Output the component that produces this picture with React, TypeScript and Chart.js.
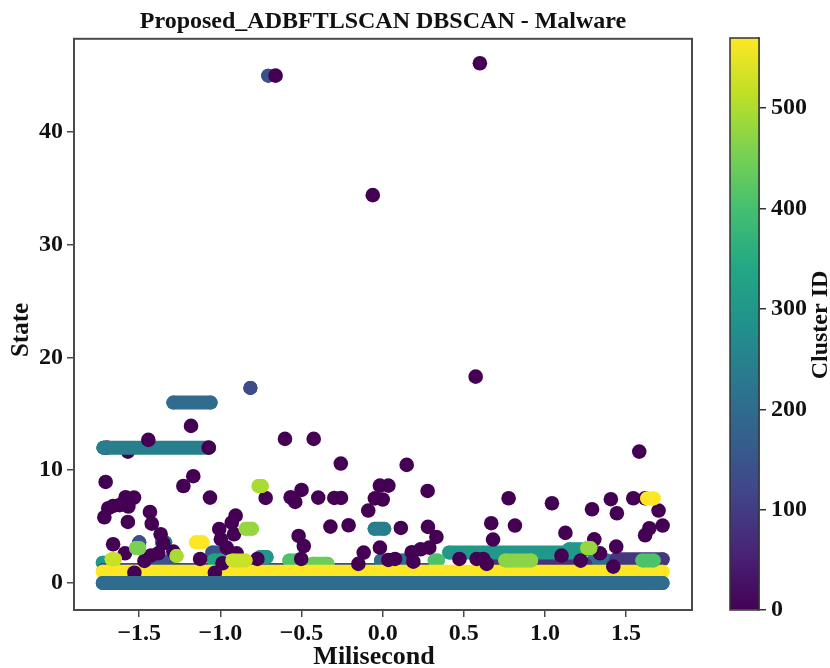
import React, { useEffect, useRef } from "react";
import { Chart, registerables } from "chart.js";

Chart.register(...registerables);

const TITLE = "Proposed_ADBFTLSCAN DBSCAN - Malware";
const X_LABEL = "Milisecond";
const Y_LABEL = "State";
const CB_LABEL = "Cluster ID";
const xTicks = [-1.5, -1, -0.5, 0, 0.5, 1, 1.5];
const yTicks = [0, 10, 20, 30, 40];
const cbTicks = [0, 100, 200, 300, 400, 500];
const CLUSTER_MAX = 570;

const viridisStops = ["#440154", "#482475", "#414487", "#355f8d", "#2a788e", "#21918c", "#22a884", "#44bf70", "#7ad151", "#bddf26", "#fde725"];

// Runs of same-cluster points, lowest layer first: [cluster, y, xStart, xEnd]
const bandsBack: number[][] = [
  [302, 1.8, -1.725, -1.69],
  [302, 12, -1.72, -1.72],
  [130, 1.15, -1.72, 0.3],
  [200, 2, -0.01, 0.13],
  [140, 3.6, -1.5, -1.5],
  [245, 3.6, -1.36, -1.34],
  [150, 2.7, -1.05, -1.0],
  [150, 1.9, -1.38, -1.32],
  [200, 2, 1.3, 1.38],
  [90, 2.1, 1.44, 1.725],
  [80, 1.6, 0.69, 1.25],
];
const dotsBehindX = [-1.57, -1.7];
const dotsBehindY = [11.65, 12];
const bandsMid: number[][] = [
  [245, 12, -1.72, -1.07],
  [200, 16, -1.29, -1.06],
  [302, 2.7, 0.41, 1.2],
  [302, 3, 1.15, 1.28],
  [245, 4.8, -0.05, 0.01],
  [300, 2.3, -0.755, -0.715],
  [330, 2, -1.04, -1.0],
  [410, 2, -0.575, -0.535],
  [440, 1.7, -0.43, -0.34],
  [410, 2, 0.32, 0.34],
  [130, 17.3, -0.815, -0.815],
  [140, 45, -0.705, -0.705],
  [570, 1, -1.725, 1.725],
];
const dotX = [-0.66, 0.599, -0.061, 0.573, -1.444, -1.181, -1.072, -0.602, -0.425, -0.258, -1.707, -1.167, -1.228, -1.064, -0.721, -0.567, -0.5, -0.539, -0.397, -0.298, -0.257, -0.017, 0.035, -0.048, 0, -0.089, -1.715, -1.691, -1.661, -1.62, -1.584, -1.532, -1.567, -1.57, -1.434, -1.423, -1.368, -1.352, -1.661, -1.588, -1.383, -1.429, -1.468, -1.29, -0.906, -0.93, -1.007, -0.916, -0.997, -0.961, -0.9, -1.125, -0.772, -0.987, -1.53, -1.034, -0.518, -0.486, -0.502, -0.322, -0.21, -0.117, -0.15, -0.017, 0.035, 1.581, 0.148, 0.277, 0.776, 1.043, 1.29, 1.406, 1.443, 1.544, 1.617, 1.7, 1.725, 1.643, 1.617, 0.112, 0.279, 0.331, 0.669, 0.815, 0.68, 1.126, 1.304, 1.439, 1.339, 1.102, 0.076, 0.179, 0.234, 0.287, 0.189, 0.473, 0.579, 0.62, 1.22, 1.421, 0.641];
const dotY = [45, 46.1, 34.4, 18.3, 12.69, 13.93, 12, 12.78, 12.78, 10.59, 8.96, 9.47, 8.6, 7.57, 7.54, 7.6, 8.25, 7.19, 7.57, 7.54, 7.54, 8.63, 8.63, 7.5, 7.4, 6.42, 5.83, 6.63, 6.83, 6.9, 7.6, 7.57, 6.78, 5.41, 6.3, 5.26, 4.32, 3.52, 3.43, 2.63, 2.63, 2.42, 1.95, 2.78, 5.97, 5.35, 4.79, 4.32, 3.88, 3.13, 2.63, 2.13, 2.13, 1.75, 0.91, 0.91, 4.17, 3.28, 2.13, 5, 5.12, 2.69, 1.69, 3.13, 2.04, 11.65, 10.47, 8.16, 7.51, 7.07, 6.54, 7.43, 6.18, 7.51, 7.51, 6.42, 5.09, 4.85, 4.23, 4.88, 4.97, 4.08, 5.3, 5.09, 3.85, 4.44, 3.87, 3.22, 2.63, 2.42, 2.13, 2.72, 2.99, 3.13, 1.89, 2.13, 2.13, 2.13, 1.98, 1.45, 1.69];
const bandsFront: number[][] = [
  [200, 0, -1.725, 1.725],
  [456, 3.1, -1.52, -1.5],
  [524, 2.1, -1.67, -1.65],
  [496, 2.4, -1.27, -1.27],
  [570, 3.6, -1.15, -1.11],
  [496, 8.6, -0.765, -0.745],
  [480, 4.8, -0.845, -0.805],
  [524, 2, -0.925, -0.845],
  [470, 2, 0.755, 0.915],
  [410, 2, 1.6, 1.67],
  [480, 3.1, 1.26, 1.28],
  [570, 7.5, 1.63, 1.67],
];

function viridis(cluster: number): string {
  const t = Math.min(1, Math.max(0, cluster / CLUSTER_MAX)) * (viridisStops.length - 1);
  const i = Math.min(viridisStops.length - 2, Math.floor(t));
  const f = t - i;
  const parse = (h: string) => [1, 3, 5].map((k) => parseInt(h.slice(k, k + 2), 16));
  const a = parse(viridisStops[i]);
  const b = parse(viridisStops[i + 1]);
  return `rgb(${a.map((v, k) => Math.round(v + (b[k] - v) * f)).join(",")})`;
}

const RADIUS = 7.3;
const FONT = "'Liberation Serif', 'Times New Roman', serif";
const INK = "#111";
const FRAME = "#4a4a4a";

const bandSet = (b: number[]) => ({
  data: [{ x: b[2], y: b[1] }, { x: b[3], y: b[1] }],
  showLine: true,
  borderColor: viridis(b[0]),
  backgroundColor: viridis(b[0]),
  borderWidth: 14,
  borderCapStyle: "round" as const,
  pointRadius: 7,
  pointBorderWidth: 0,
});
const dotSet = (xs: number[], ys: number[]) => ({
  data: xs.map((x, i) => ({ x, y: ys[i] })),
  showLine: false,
  backgroundColor: viridis(0),
  borderColor: viridis(0),
  pointRadius: RADIUS,
  pointBorderWidth: 0,
});

const frameWith = (color: string, width: number) => ({
  id: "frame",
  afterDatasetsDraw(chart: any) {
    const { ctx, chartArea: a } = chart;
    ctx.save();
    ctx.strokeStyle = color;
    ctx.lineWidth = width;
    ctx.strokeRect(a.left, a.top, a.right - a.left, a.bottom - a.top);
    ctx.restore();
  },
});

const drawLabel = (ctx: any, text: string, x: number, y: number, size: number, rotate: boolean) => {
  ctx.save();
  ctx.translate(x, y);
  if (rotate) ctx.rotate(-Math.PI / 2);
  ctx.textAlign = "center";
  ctx.textBaseline = "middle";
  ctx.fillStyle = INK;
  ctx.font = `bold ${size}px ${FONT}`;
  ctx.fillText(text, 0, 0);
  ctx.restore();
};

const axisLabelPlugin = {
  id: "axisLabels",
  afterDraw(chart: any) {
    drawLabel(chart.ctx, X_LABEL, 374, 657, 26, false);
    drawLabel(chart.ctx, Y_LABEL, 22, 330, 25, true);
  },
};
const cbTitlePlugin = {
  id: "cbTitle",
  afterDraw(chart: any) {
    drawLabel(chart.ctx, CB_LABEL, 121, 325, 24, true);
  },
};

const tickFont = { family: FONT, size: 24, weight: "bold" as const };
const titleFont = { family: FONT, size: 24, weight: "bold" as const };
const axisBorder = { display: true, color: FRAME, width: 2 };
const axisGrid = { drawOnChartArea: false, drawTicks: true, tickLength: 7, color: FRAME, lineWidth: 1.5 };

export default function App() {
  const mainRef = useRef<HTMLCanvasElement>(null);
  const barRef = useRef<HTMLCanvasElement>(null);

  useEffect(() => {
    const layered = [
      ...bandsBack.map(bandSet),
      dotSet(dotsBehindX, dotsBehindY),
      ...bandsMid.map(bandSet),
      dotSet(dotX, dotY),
      ...bandsFront.map(bandSet),
    ];
    // Chart.js paints the first dataset last, so reverse to keep back-to-front order.
    const main = new Chart(mainRef.current!, {
      type: "scatter",
      data: { datasets: layered.reverse() as any },
      options: {
        responsive: false,
        animation: false,
        layout: { padding: { left: 0, right: 138, top: 0, bottom: 0 } },
        plugins: {
          legend: { display: false },
          tooltip: { enabled: false },
          title: {
            display: true,
            text: TITLE,
            fullSize: false,
            color: INK,
            font: titleFont,
            padding: { top: 7, bottom: 3 },
          } as any,
        },
        scales: {
          x: {
            type: "linear",
            min: -1.902,
            max: 1.906,
            afterBuildTicks: (s: any) => { s.ticks = xTicks.map((value) => ({ value })); },
            afterFit: (s: any) => { s.height = 58; },
            border: axisBorder,
            grid: axisGrid,
            ticks: {
              color: INK,
              font: tickFont,
              padding: 2,
              maxRotation: 0,
              autoSkip: false,
              callback: (v: any) => (v < 0 ? "\u2212" : "") + Math.abs(v).toFixed(1),
            },
          },
          y: {
            type: "linear",
            min: -2.4,
            max: 48.27,
            afterBuildTicks: (s: any) => { s.ticks = yTicks.map((value) => ({ value })); },
            afterFit: (s: any) => { s.width = 74; },
            border: axisBorder,
            grid: axisGrid,
            ticks: { color: INK, font: tickFont, padding: 4, autoSkip: false },
          },
        },
      },
      plugins: [frameWith(FRAME, 2), axisLabelPlugin],
    } as any);

    const colorbar = new Chart(barRef.current!, {
      type: "bar",
      data: {
        labels: [CB_LABEL],
        datasets: [
          {
            data: [[0, CLUSTER_MAX]],
            barPercentage: 1,
            categoryPercentage: 1,
            backgroundColor: (c: any) => {
              const a = c.chart.chartArea;
              if (!a) return viridis(0);
              const g = c.chart.ctx.createLinearGradient(0, a.bottom, 0, a.top);
              viridisStops.forEach((s, i) => g.addColorStop(i / (viridisStops.length - 1), s));
              return g;
            },
          } as any,
        ],
      },
      options: {
        responsive: false,
        animation: false,
        layout: { padding: { left: 30, right: 0, top: 38, bottom: 58 } },
        plugins: { legend: { display: false }, tooltip: { enabled: false } },
        scales: {
          x: { display: false },
          y: {
            position: "right",
            min: 0,
            max: CLUSTER_MAX,
            afterBuildTicks: (s: any) => { s.ticks = cbTicks.map((value) => ({ value })); },
            afterFit: (s: any) => { s.width = 71; },
            border: { display: true, color: "#333", width: 1.5 },
            grid: { ...axisGrid, color: "#333" },
            ticks: { color: INK, font: tickFont, padding: 5, autoSkip: false },
          },
        },
      },
      plugins: [frameWith("#333", 1.5), cbTitlePlugin],
    } as any);

    return () => {
      main.destroy();
      colorbar.destroy();
    };
  }, []);

  const blur = "blur(0.45px)";
  return (
    <div style={{ position: "absolute", left: 0, top: 0, width: 830, height: 668, background: "#fff", overflow: "hidden" }}>
      <canvas ref={mainRef} width={830} height={668} style={{ position: "absolute", left: 0, top: 0, filter: blur }} />
      <canvas ref={barRef} width={130} height={668} style={{ position: "absolute", left: 700, top: 0, filter: blur }} />
    </div>
  );
}
